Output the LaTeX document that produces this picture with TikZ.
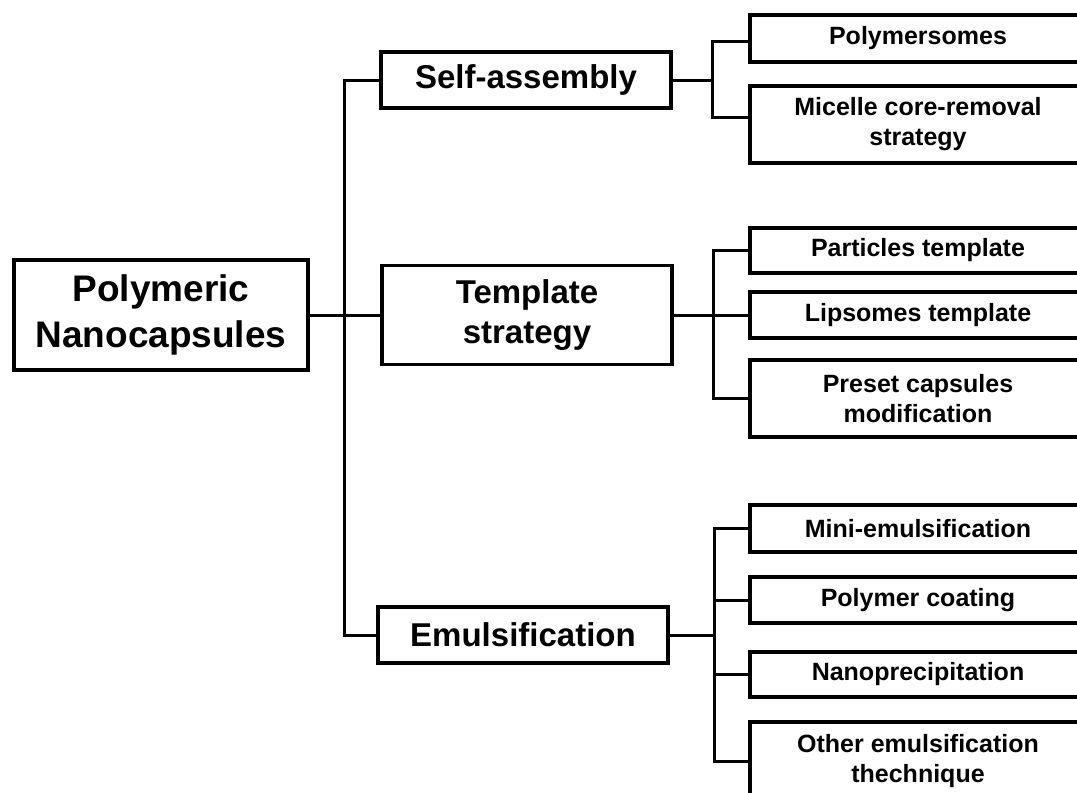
\documentclass[tikz,border=0pt]{standalone}
\usepackage{fontspec}
\setmainfont{Liberation Sans}
\begin{document}
\begin{tikzpicture}[x=1pt,y=-1pt,
  box/.style={draw=black,line width=3.2pt,fill=white,inner sep=0pt,align=center,font=\bfseries},
  rootbox/.style={box,font=\fontsize{37}{46}\selectfont\bfseries},
  midbox/.style={box,font=\fontsize{33}{40}\selectfont\bfseries,minimum width=290pt},
  leafbox/.style={box,font=\fontsize{25}{30}\selectfont\bfseries,minimum width=336pt},
  link/.style={draw=black,line width=3pt}]
\useasboundingbox (0,0) rectangle (1077,793);
\clip (0,0) rectangle (1077,793);
\fill[white] (0,0) rectangle (1077,793);

% root
\node[rootbox,minimum width=294pt,minimum height=110pt] (root) at (161,315) {Polymeric\\Nanocapsules};

% level 1
\node[midbox,minimum height=56pt] (self) at (526,80) {Self-assembly};
\node[midbox,minimum height=99pt] (tmpl) at (527,315) {Template\\strategy};
\node[midbox,minimum height=56pt] (emul) at (523,635) {Emulsification};

% level 2
\node[leafbox,minimum height=47pt] (poly) at (918,38.5) {Polymersomes};
\node[leafbox,minimum height=77pt] (mic) at (918,124.5) {Micelle core-removal\\strategy};
\node[leafbox,minimum height=45pt] (part) at (918,250.5) {Particles template};
\node[leafbox,minimum height=46pt] (lip) at (918,315) {Lipsomes template};
\node[leafbox,minimum height=77pt] (pre) at (918,398.5) {Preset capsules\\modification};
\node[leafbox,minimum height=47pt] (mini) at (918,528.5) {Mini-emulsification};
\node[leafbox,minimum height=46pt] (pcoat) at (918,600) {Polymer coating};
\node[leafbox,minimum height=45pt] (nano) at (918,674.5) {Nanoprecipitation};
\node[leafbox,minimum height=78pt] (other) at (918,761) {Other emulsification\\thechnique};

% trunk
\coordinate (trunk) at (344,315);
\coordinate (sab) at (712,80);
\coordinate (tsb) at (713,315);
\coordinate (emb) at (714,635);

\draw[link] (root.east) -- (tmpl.west);
\draw[link] (self.west) -| (trunk) |- (emul.west);

% self-assembly branch
\draw[link] (self.east) -- (sab);
\draw[link] ([yshift=-3pt]poly.west) -| (sab) |- ([yshift=7pt]mic.west);

% template branch
\draw[link] (tmpl.east) -- (tsb);
\draw[link] (part.west) -| (tsb) |- (pre.west);
\draw[link] (lip.west) -- (lip.west -| tsb);

% emulsification branch
\draw[link] (emul.east) -- (emb);
\draw[link] (mini.west) -| (emb) |- (other.west);
\draw[link] (pcoat.west) -- (pcoat.west -| emb);
\draw[link] (nano.west) -- (nano.west -| emb);
\end{tikzpicture}
\end{document}
